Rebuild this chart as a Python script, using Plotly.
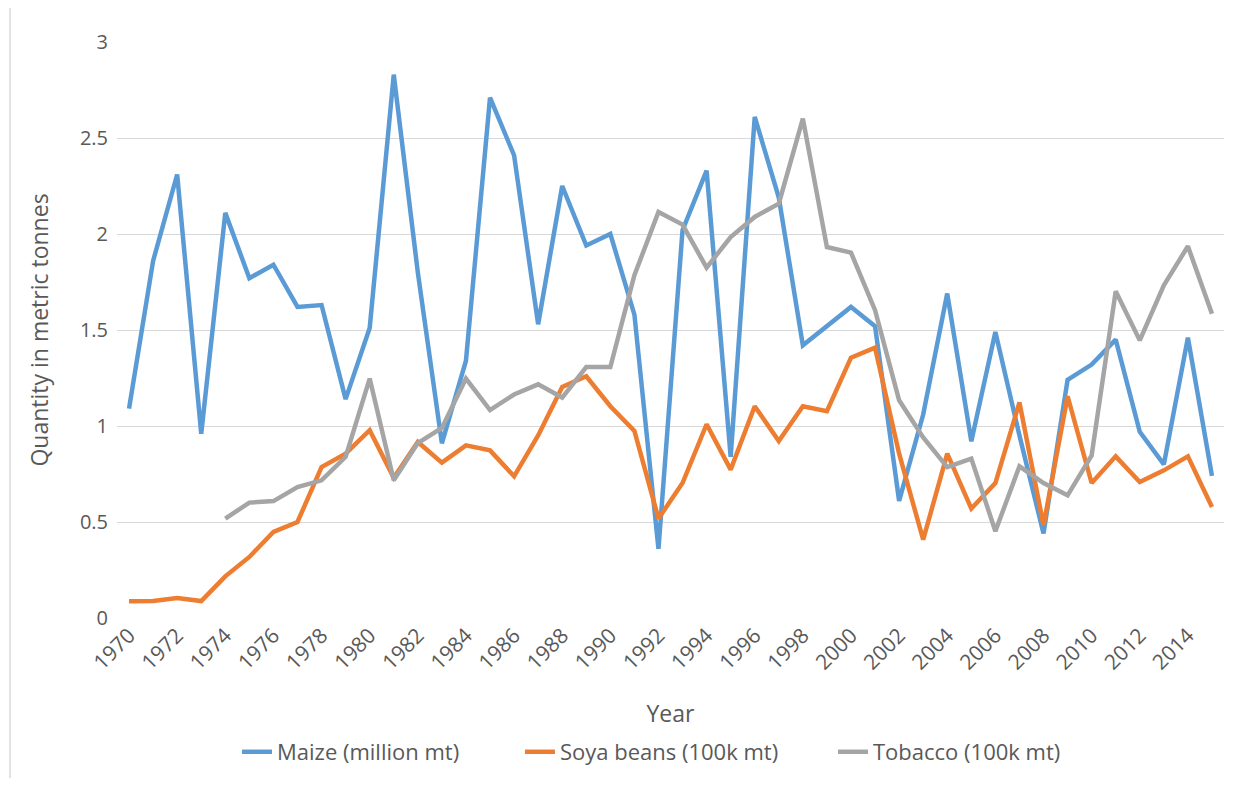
import plotly.graph_objects as go

years = list(range(1970, 2016))

maize = [1.09, 1.86, 2.31, 0.96, 2.11, 1.77, 1.84, 1.62, 1.63, 1.14,
         1.51, 2.83, 1.80, 0.91, 1.34, 2.71, 2.41, 1.53, 2.25, 1.94,
         2.00, 1.58, 0.36, 2.02, 2.33, 0.84, 2.61, 2.19, 1.42, 1.52,
         1.62, 1.52, 0.61, 1.06, 1.69, 0.92, 1.49, 0.95, 0.44, 1.24,
         1.32, 1.45, 0.97, 0.80, 1.46, 0.74]

soya = [0.087, 0.088, 0.104, 0.088, 0.217, 0.318, 0.448, 0.50, 0.786, 0.856,
        0.978, 0.73, 0.917, 0.809, 0.899, 0.873, 0.738, 0.951, 1.203, 1.259,
        1.103, 0.974, 0.518, 0.703, 1.009, 0.773, 1.103, 0.922, 1.103, 1.077,
        1.356, 1.408, 0.856, 0.408, 0.856, 0.570, 0.703, 1.123, 0.483, 1.155,
        0.703, 0.842, 0.708, 0.769, 0.842, 0.578]

tobacco = [None, None, None, None, 0.518, 0.601, 0.609, 0.682, 0.717, 0.839,
           1.247, 0.717, 0.911, 0.990, 1.247, 1.083, 1.164, 1.217, 1.148, 1.307,
           1.307, 1.785, 2.115, 2.049, 1.825, 1.984, 2.089, 2.158, 2.601, 1.932,
           1.903, 1.603, 1.134, 0.94, 0.786, 0.830, 0.452, 0.790, 0.703, 0.639,
           0.847, 1.702, 1.446, 1.733, 1.936, 1.585]

tick_years = list(range(1970, 2015, 2))

font_family = "Open Sans, Liberation Sans, sans-serif"
text_color = "#595959"

fig = go.Figure()
fig.add_trace(go.Scatter(x=years, y=maize, mode="lines", name="Maize (million mt)",
                         line=dict(color="#5B9BD5", width=4.5), legend="legend"))
fig.add_trace(go.Scatter(x=years, y=soya, mode="lines", name="Soya beans (100k mt)",
                         line=dict(color="#ED7D31", width=4.5), legend="legend2"))
fig.add_trace(go.Scatter(x=years, y=tobacco, mode="lines", name="Tobacco (100k mt)",
                         line=dict(color="#A5A5A5", width=4.5), legend="legend3"))

leg_common = dict(orientation="h", y=-0.2326, yanchor="middle", xanchor="left",
                  font=dict(size=22, color=text_color), bgcolor="rgba(0,0,0,0)")

fig.update_layout(
    width=1242, height=770,
    margin=dict(l=109, r=26, t=34, b=160, autoexpand=False),
    paper_bgcolor="white", plot_bgcolor="white",
    font=dict(family=font_family, color=text_color, size=20),
    showlegend=True,
    legend=dict(x=0.1084, **leg_common),
    legend2=dict(x=0.3640, **leg_common),
    legend3=dict(x=0.6468, **leg_common),
    xaxis=dict(range=[1969.5, 2015.5], tickmode="array", tickvals=tick_years,
               ticktext=[str(y) for y in tick_years], tickangle=-45,
               showgrid=False, zeroline=False, showline=False, ticks="",
               automargin=False,
               tickfont=dict(size=21, color=text_color),
               title=dict(text="Year", font=dict(size=23, color=text_color), standoff=31)),
    yaxis=dict(range=[0, 3], tickmode="array", tickvals=[0, 0.5, 1, 1.5, 2, 2.5, 3],
               ticktext=["0", "0.5", "1", "1.5", "2", "2.5", "3"],
               showgrid=True, gridcolor="#D9D9D9", gridwidth=1.3,
               zeroline=False, showline=False, ticks="", ticklabelstandoff=8,
               automargin=False,
               tickfont=dict(size=20, color=text_color),
               title=dict(text="Quantity in metric tonnes", font=dict(size=23, color=text_color), standoff=24)),
)

fig.add_shape(type="line", xref="paper", yref="paper",
              x0=-107/1107, x1=-107/1107, y0=-160/576, y1=1.1,
              line=dict(color="#D9D9D9", width=1.5))

fig.write_html("out.html")
